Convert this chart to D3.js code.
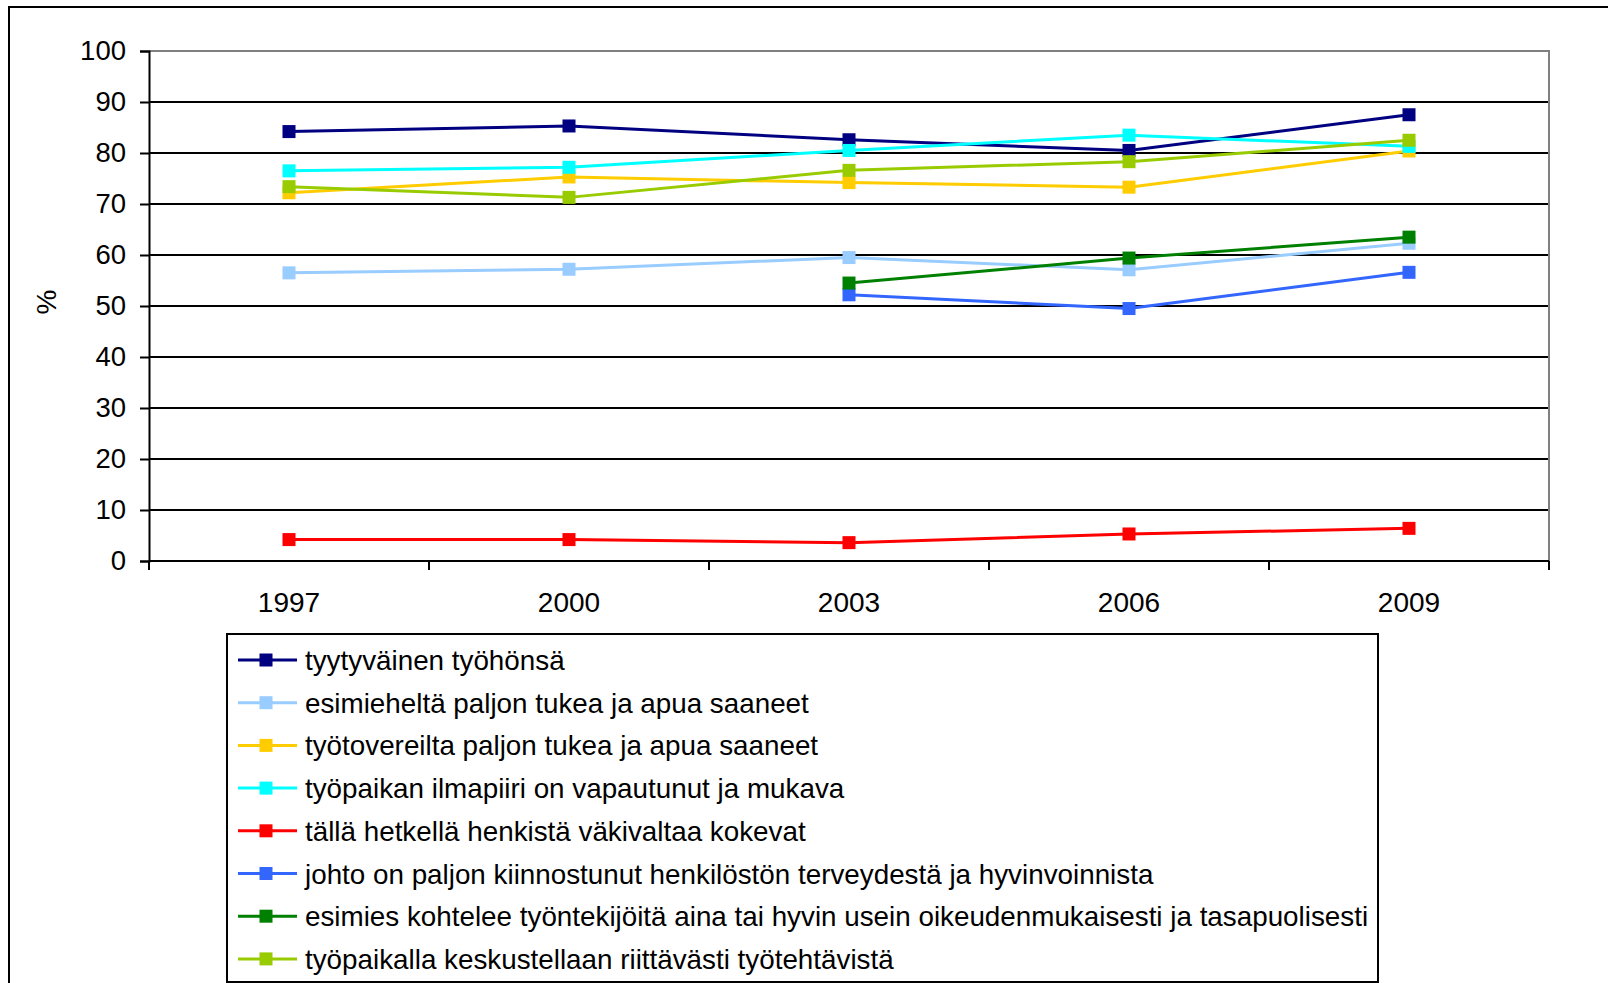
<!DOCTYPE html>
<html>
<head>
<meta charset="utf-8">
<script src="https://cdn.jsdelivr.net/npm/d3@7"></script>
<style>
  body { margin: 0; background: #fff; }
  svg { display: block; font-family: "Liberation Sans", Arial, sans-serif; }
</style>
</head>
<body>
<div id="container"></div>
<script>
// data
var years = ["1997", "2000", "2003", "2006", "2009"];
var yTicks = [0, 10, 20, 30, 40, 50, 60, 70, 80, 90, 100];

var seriesNames = [
  "tyytyväinen työhönsä",
  "esimieheltä paljon tukea ja apua saaneet",
  "työtovereilta paljon tukea ja apua saaneet",
  "työpaikan ilmapiiri on vapautunut ja mukava",
  "tällä hetkellä henkistä väkivaltaa kokevat",
  "johto on paljon kiinnostunut henkilöstön terveydestä ja hyvinvoinnista",
  "esimies kohtelee työntekijöitä aina tai hyvin usein oikeudenmukaisesti ja tasapuolisesti",
  "työpaikalla keskustellaan riittävästi työtehtävistä"
];
var seriesColors = ["#000080", "#99ccff", "#ffcc00", "#00ffff", "#ff0000", "#3366ff", "#008000", "#99cc00"];

var tyytyvainen   = [84.2, 85.3, 82.6, 80.5, 87.5];
var esimieheltaTuki = [56.5, 57.2, 59.5, 57.1, 62.3];
var tyotovereiltaTuki = [72.2, 75.3, 74.2, 73.3, 80.4];
var ilmapiiri     = [76.5, 77.2, 80.5, 83.5, 81.3];
var vakivalta     = [4.2, 4.2, 3.6, 5.3, 6.4];
var johto         = [null, null, 52.2, 49.5, 56.6];
var esimiesKohtelee = [null, null, 54.5, 59.4, 63.5];
var keskustellaan = [73.4, 71.3, 76.6, 78.3, 82.5];

var seriesValues = [tyytyvainen, esimieheltaTuki, tyotovereiltaTuki, ilmapiiri,
                    vakivalta, johto, esimiesKohtelee, keskustellaan];

var W = 1608, H = 983;
var margin = {top: 51, left: 149},
    width = 1400,
    height = 510;

var svg = d3.select("#container").append("svg")
    .attr("width", W)
    .attr("height", H);

// outer chart border (runs off the picture right and bottom)
svg.append("rect")
    .attr("x", 9).attr("y", 7)
    .attr("width", W + 20).attr("height", H + 20)
    .attr("fill", "none").attr("stroke", "#000").attr("stroke-width", 2);

var xScale = d3.scaleBand().domain(years).range([0, width]);
var yScale = d3.scaleLinear().domain([0, 100]).range([height, 0]);

var g = svg.append("g")
    .attr("transform", "translate(" + margin.left + "," + margin.top + ")");

// gridlines
g.append("g")
    .selectAll("line")
    .data(yTicks.filter(function(d) { return d > 0 && d < 100; }))
    .enter().append("line")
      .attr("x1", 0).attr("x2", width)
      .attr("y1", function(d) { return yScale(d); })
      .attr("y2", function(d) { return yScale(d); })
      .attr("stroke", "#000").attr("stroke-width", 2);

// plot area border top/right
g.append("path")
    .attr("d", "M0," + yScale(100) + "H" + width + "V" + yScale(0))
    .attr("fill", "none").attr("stroke", "#808080").attr("stroke-width", 2);

// y axis
var yAxis = d3.axisLeft(yScale).tickValues(yTicks).tickSize(9).tickPadding(14);
g.append("g")
    .call(yAxis)
    .call(function(a) {
      a.select(".domain").attr("stroke", "#000").attr("stroke-width", 2);
      a.selectAll(".tick line").attr("stroke", "#000").attr("stroke-width", 2);
      a.selectAll(".tick text").attr("font-size", "27.5px").attr("fill", "#000")
        .attr("font-family", "Liberation Sans, Arial, sans-serif");
    });

// x axis: ticks between categories
var xAxis = g.append("g").attr("transform", "translate(0," + height + ")");
xAxis.append("line")
    .attr("x1", 0).attr("x2", width)
    .attr("stroke", "#000").attr("stroke-width", 2);
var bounds = years.map(function(d) { return xScale(d); }).concat([width]);
xAxis.selectAll(".xt")
    .data(bounds)
    .enter().append("line")
      .attr("class", "xt")
      .attr("x1", function(d) { return d; }).attr("x2", function(d) { return d; })
      .attr("y1", 0).attr("y2", 9)
      .attr("stroke", "#000").attr("stroke-width", 2);
xAxis.selectAll(".xl")
    .data(years)
    .enter().append("text")
      .attr("class", "xl")
      .attr("x", function(d) { return xScale(d) + xScale.bandwidth() / 2; })
      .attr("y", 51)
      .attr("text-anchor", "middle")
      .attr("font-size", "28px")
      .text(function(d) { return d; });

// y label
svg.append("text")
    .attr("transform", "translate(56,302) rotate(-90)")
    .attr("text-anchor", "middle")
    .attr("font-size", "28px")
    .text("%");

// lines
var line = d3.line()
    .defined(function(d) { return d.v != null; })
    .x(function(d) { return xScale(d.year) + xScale.bandwidth() / 2; })
    .y(function(d) { return yScale(d.v); });

var ms = 13;
seriesValues.forEach(function(vals, i) {
  var pts = vals.map(function(v, j) { return {year: years[j], v: v}; });
  var sg = g.append("g");
  sg.append("path")
      .datum(pts)
      .attr("d", line)
      .attr("fill", "none")
      .attr("stroke", seriesColors[i])
      .attr("stroke-width", 3);
  sg.selectAll("rect")
      .data(pts.filter(function(d) { return d.v != null; }))
      .enter().append("rect")
        .attr("x", function(d) { return xScale(d.year) + xScale.bandwidth() / 2 - ms / 2; })
        .attr("y", function(d) { return yScale(d.v) - ms / 2; })
        .attr("width", ms).attr("height", ms)
        .attr("fill", seriesColors[i]);
});

// legend
var leg = svg.append("g");
leg.append("rect")
    .attr("x", 227).attr("y", 634)
    .attr("width", 1151).attr("height", 348)
    .attr("fill", "#fff").attr("stroke", "#000").attr("stroke-width", 2);
var rows = leg.selectAll(".row")
    .data(seriesNames)
    .enter().append("g")
      .attr("transform", function(d, i) { return "translate(0," + (660 + i * 42.7) + ")"; });
rows.append("line")
    .attr("x1", 238).attr("x2", 297)
    .attr("stroke", function(d, i) { return seriesColors[i]; })
    .attr("stroke-width", 3);
rows.append("rect")
    .attr("x", 266 - ms / 2).attr("y", -ms / 2)
    .attr("width", ms).attr("height", ms)
    .attr("fill", function(d, i) { return seriesColors[i]; });
rows.append("text")
    .attr("x", 305).attr("y", 10)
    .attr("font-size", "27.8px")
    .text(function(d) { return d; });
</script>
</body>
</html>
